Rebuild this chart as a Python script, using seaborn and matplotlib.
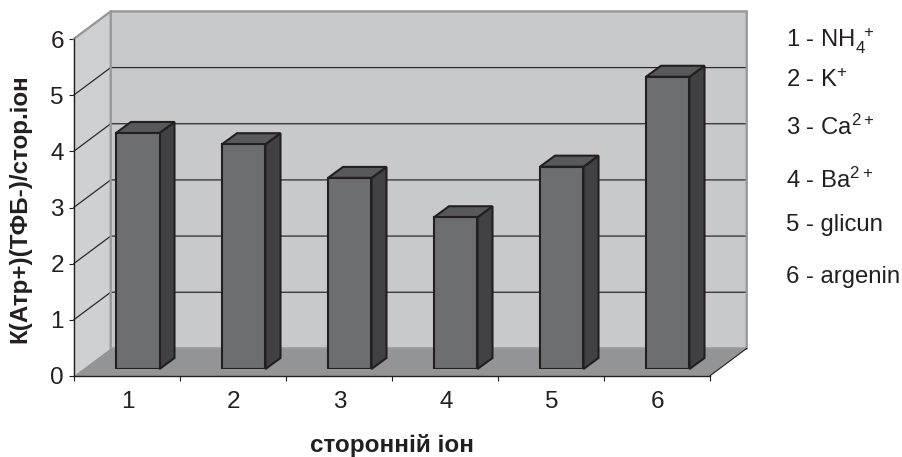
import matplotlib
matplotlib.use("Agg")
import matplotlib.pyplot as plt
import pandas as pd
import seaborn as sns
from matplotlib.patches import Polygon

categories = ["1", "2", "3", "4", "5", "6"]
values = [4.2, 4.0, 3.4, 2.7, 3.6, 5.2]
y_ticks = [0, 1, 2, 3, 4, 5, 6]
legend_entries = [
    (r"1 - NH$_{4}^{\ +}$", 48),
    (r"2 - K$^{+}$", 87),
    (r"3 - Ca$^{2+}$", 135),
    (r"4 - Ba$^{2+}$", 188),
    ("5 - glicun", 231),
    ("6 - argenin", 283),
]
x_title = "сторонній іон"
y_title = "К(Атр+)(ТФБ-)/стор.іон"

W, H = 903, 457
sns.set_style("white")
plt.rcParams["font.family"] = ["Liberation Sans", "DejaVu Sans"]
plt.rcParams["mathtext.fontset"] = "custom"
plt.rcParams["mathtext.rm"] = "Liberation Sans"
plt.rcParams["mathtext.default"] = "rm"

INK = "#231f20"
WALL = "#c8c9cb"
SIDE_WALL = "#cfd0d2"
FLOOR = "#939497"
WALL_EDGE = "#97989b"
BAR_FRONT = "#6d6e70"
BAR_TOP = "#58595b"
BAR_SIDE = "#414042"

fig = plt.figure(figsize=(W / 100, H / 100), dpi=100, facecolor="white")


def pixel_axes(left, right, bottom, top):
    return fig.add_axes([left / W, 1 - bottom / H, (right - left) / W, (bottom - top) / H])


# Front plane of the chart box: carries the axes, ticks and the perspective walls.
box = pixel_axes(73.7, 709.7, 376, 39)
box.set_xlim(0, 6)
box.set_ylim(0, 6)
box.patch.set_visible(False)
DX, DY = 37 / 106, 27.6 / 56.2


def add_poly(ax, pts, color, edge="none", lw=0.0, z=1):
    ax.add_patch(Polygon(pts, closed=True, facecolor=color, edgecolor=edge, linewidth=lw,
                         clip_on=False, zorder=z, joinstyle="miter"))


add_poly(box, [(DX, DY), (6 + DX, DY), (6 + DX, 6 + DY), (DX, 6 + DY)], WALL)
add_poly(box, [(0, 0), (DX, DY), (DX, 6 + DY), (0, 6)], SIDE_WALL)
add_poly(box, [(0, 0), (6, 0), (6 + DX, DY), (DX, DY)], FLOOR)

for level in y_ticks[1:-1]:
    box.plot([0, DX, 6 + DX], [level, level + DY, level + DY], color="#2b2a2b", lw=0.9,
             clip_on=False, zorder=2, solid_joinstyle="miter")

box.plot([0, DX, 6 + DX, 6 + DX, DX, DX], [6, 6 + DY, 6 + DY, DY, DY, 6 + DY],
         color=WALL_EDGE, lw=1.7, clip_on=False, zorder=3, solid_joinstyle="miter")
box.plot([6, 6 + DX], [0, DY], color=INK, lw=0.8, clip_on=False, zorder=3)

for side in ("top", "right"):
    box.spines[side].set_visible(False)
for side in ("left", "bottom"):
    box.spines[side].set_color(INK)
    box.spines[side].set_linewidth(1.0)
    box.spines[side].set_zorder(4)

box.set_yticks(y_ticks)
box.set_xticks(range(7))
box.set_xticklabels([])
box.set_xticks([i + 0.51 for i in range(6)], labels=categories, minor=True)
box.tick_params(axis="both", which="major", direction="out", length=3.6, width=0.8,
                color=INK, left=True, bottom=True, labelcolor=INK, labelsize=17.5, pad=3.5)
box.tick_params(axis="x", which="minor", length=0, labelsize=17.5, labelcolor=INK, pad=10.5)

# Bars stand a little behind the front plane, so they get their own axes.
bars_ax = pixel_axes(84.75, 720.75, 369, 31.8)
bars_ax.patch.set_visible(False)
frame = pd.DataFrame({"ion": categories, "ratio": values})
sns.barplot(data=frame, x="ion", y="ratio", ax=bars_ax, color=BAR_FRONT, saturation=1,
            width=43.5 / 106, edgecolor=INK, linewidth=1.5, zorder=3)
bars_ax.set_xlim(-0.5, 5.5)
bars_ax.set_ylim(0, 6)
bars_ax.axis("off")

BAR_DX, BAR_DY = 15 / 106, 11 / 56.2
for bar in list(bars_ax.patches):
    x0, x1 = bar.get_x(), bar.get_x() + bar.get_width()
    top = bar.get_height()
    add_poly(bars_ax, [(x1, 0), (x1 + BAR_DX, BAR_DY), (x1 + BAR_DX, top + BAR_DY), (x1, top)],
             BAR_SIDE, INK, 1.5, z=2)
    add_poly(bars_ax, [(x0, top), (x1, top), (x1 + BAR_DX, top + BAR_DY), (x0 + BAR_DX, top + BAR_DY)],
             BAR_TOP, INK, 1.5, z=2)

for label, baseline in legend_entries:
    fig.text(786 / W, 1 - baseline / H, label, fontsize=17.2, color=INK, va="baseline", ha="left")

fig.text(392.5 / W, 1 - 452 / H, x_title, fontsize=17.5, fontweight="bold", color=INK,
         ha="center", va="baseline")
fig.text(31 / W, 1 - 209 / H, y_title, fontsize=17.4, fontweight="bold", color=INK,
         rotation=90, ha="right", va="center")

fig.savefig("out.png", dpi=100)
